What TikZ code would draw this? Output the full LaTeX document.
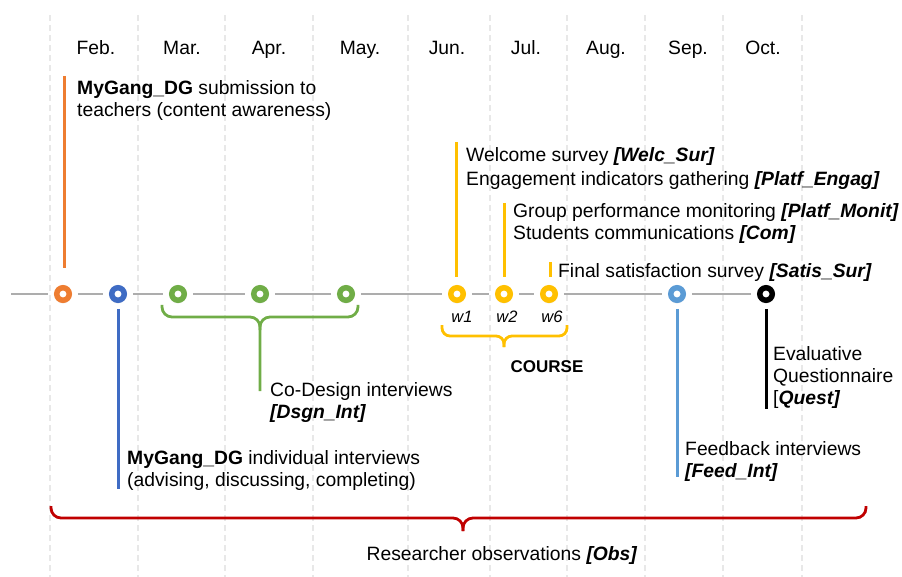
\documentclass[tikz,border=0pt]{standalone}
\usepackage{fontspec}
\setmainfont{Liberation Sans}
\usetikzlibrary{shadows.blur}
\definecolor{orgC}{HTML}{EE7D31}
\definecolor{bluC}{HTML}{3F6CC4}
\definecolor{grnC}{HTML}{70AD47}
\definecolor{ylwC}{HTML}{FFC000}
\definecolor{lbluC}{HTML}{5B9BD5}
\definecolor{redC}{HTML}{C00000}
\definecolor{gridC}{HTML}{E8E8E8}
\definecolor{lineC}{HTML}{ADADAD}

\begin{document}
\begin{tikzpicture}[x=1pt, y=-1pt,
    every node/.style={inner sep=0pt, font=\fontsize{19.3}{22}\selectfont},
    monthsep/.style={draw=gridC, line width=1.2pt, dash pattern=on 6pt off 4pt},
    tline/.style={draw=lineC, line width=1.4pt},
    ev/.style={circle, draw=#1, fill=white, line width=5.5pt, minimum size=12.5pt,
      outer sep=8.5pt, blur shadow={shadow xshift=0pt, shadow yshift=-1.5pt,
      shadow blur steps=6, shadow opacity=35}},
    evline/.style={draw=#1, line width=3pt},
    bracket/.style={draw=#1, line width=2.8pt, rounded corners=10pt},
    note/.style={anchor=north west, align=left},
    month/.style={anchor=base},
    week/.style={anchor=base, font=\fontsize{16.5}{18}\selectfont\itshape}]
  \useasboundingbox (0,0) rectangle (902,577);

  % month grid
  \foreach \x in {50,138,225,313,408,490,567,645,723,802}
    \draw[monthsep] (\x,15) -- (\x,577);
  \foreach \m/\x [count=\i] in {Feb./96,Mar./182,Apr./269,May./360,Jun./447,Jul./526,Aug./606,Sep./688,Oct./763}
    \node[month] (mon\i) at (\x,55) {\m};

  % timeline
  \coordinate (tstart) at (11,294);
  \node[ev=orgC] (subm) at (63,294) {};
  \node[ev=bluC] (indiv) at (118,294) {};
  \node[ev=grnC] (cd1) at (178,294) {};
  \node[ev=grnC] (cd2) at (260,294) {};
  \node[ev=grnC] (cd3) at (346,294) {};
  \node[ev=ylwC] (w1) at (457,294) {};
  \node[ev=ylwC] (w2) at (504,294) {};
  \node[ev=ylwC] (w6) at (549,294) {};
  \node[ev=lbluC] (feed) at (677,294) {};
  \node[ev=black] (quest) at (766,294) {};
  \draw[tline] (tstart) -- (subm) -- (indiv) -- (cd1) -- (cd2) -- (cd3)
    -- (w1) -- (w2) -- (w6) -- (feed) -- (quest);

  \node[week] (w1 lab) at (462,323) {w1};
  \node[week] (w2 lab) at (507,323) {w2};
  \node[week] (w6 lab) at (552,323) {w6};

  % event lines
  \coordinate (subm top) at (64,76);
  \coordinate (w1 top) at (456,142);
  \coordinate (w2 top) at (504,203);
  \coordinate (w6 top) at (550,262);
  \coordinate (indiv bot) at (118,489);
  \coordinate (feed bot) at (677,477);
  \coordinate (quest bot) at (766,409);
  \draw[evline=orgC, shorten >=26pt] (subm top) -- (subm top |- subm);
  \draw[evline=ylwC, shorten >=17pt] (w1 top) -- (w1 top |- w1);
  \draw[evline=ylwC, shorten >=17pt] (w2 top) -- (w2 top |- w2);
  \draw[evline=ylwC, shorten >=17pt] (w6 top) -- (w6 top |- w6);
  \draw[evline=bluC] (indiv) -- (indiv bot);
  \draw[evline=lbluC] (feed) -- (feed bot);
  \draw[evline=black] (quest) -- (quest bot);

  % brackets
  \coordinate (cd tip) at (260,317);
  \coordinate (cd end) at (260,391);
  \draw[bracket=grnC] (162,305) |- (cd tip) -- (cd end);
  \draw[bracket=grnC] (358,305) |- (cd tip) -- (260,330);
  \coordinate (course tip) at (504,336);
  \draw[bracket=ylwC, rounded corners=8pt] (442,325) |- (course tip) -- (504,347);
  \draw[bracket=ylwC, rounded corners=8pt] (567,325) |- (course tip) -- (504,347);
  \coordinate (obs tip) at (463,518);
  \draw[bracket=redC] (51,506) |- (obs tip) -- (463,531);
  \draw[bracket=redC] (866,506) |- (obs tip) -- (463,531);

  % texts
  \node[note] (subm txt) at (77,80) {\textbf{MyGang\_DG} submission to\\teachers (content awareness)};
  \node[note] (welc txt) at (466,147) {Welcome survey \textbf{\textit{[Welc\_Sur]}}\\[2pt]Engagement indicators gathering \textbf{\textit{[Platf\_Engag]}}};
  \node[note] (grp txt) at (513,203) {Group performance monitoring \textbf{\textit{[Platf\_Monit]}}\\Students communications \textbf{\textit{[Com]}}};
  \node[note] (fin txt) at (558,263) {Final satisfaction survey \textbf{\textit{[Satis\_Sur]}}};
  \node[note] (cd txt) at (270,382) {Co-Design interviews\\\textbf{\textit{[Dsgn\_Int]}}};
  \node[note] (indiv txt) at (127,450) {\textbf{MyGang\_DG} individual interviews\\(advising, discussing, completing)};
  \node[note] (feed txt) at (685,441) {Feedback interviews\\\textbf{\textit{[Feed\_Int]}}};
  \node[note] (quest txt) at (773,346) {Evaluative\\Questionnaire\\{[}\textbf{\textit{Quest]}}};
  \node[anchor=base, font=\fontsize{17}{20}\selectfont\bfseries] (course) at (547,372) {COURSE};
  \node[month] (obs) at (502,560) {Researcher observations \textbf{\textit{[Obs]}}};
\end{tikzpicture}
\end{document}
